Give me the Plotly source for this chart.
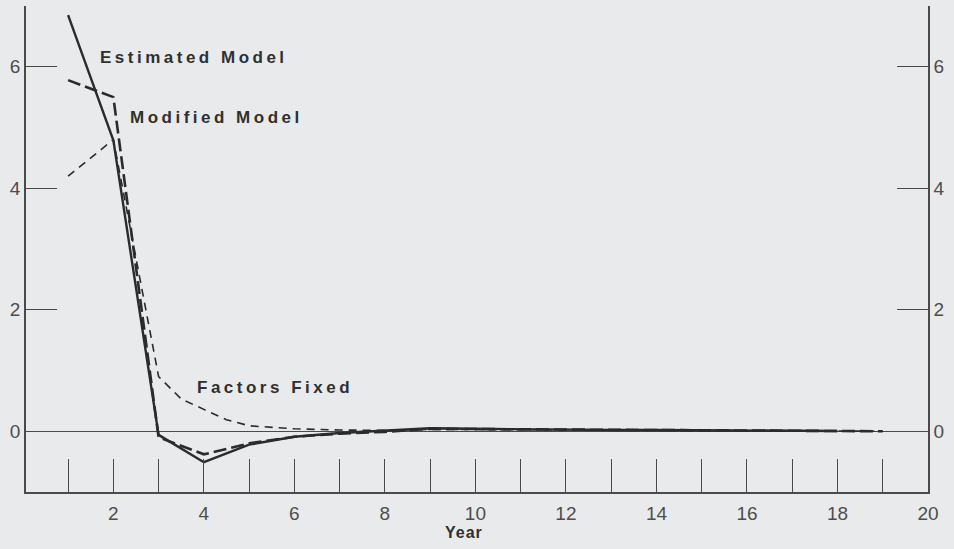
import plotly.graph_objects as go

# Impulse responses by year
years = list(range(1, 20))
estimated_years = list(range(1, 19))
estimated = [6.85, 4.79, -0.06, -0.51, -0.22, -0.09, -0.03, 0.01, 0.05,
             0.04, 0.03, 0.025, 0.02, 0.02, 0.015, 0.01, 0.01, 0.005]
modified = [5.78, 5.5, -0.1, -0.38, -0.2, -0.09, -0.04, -0.01, 0.04,
            0.035, 0.03, 0.025, 0.02, 0.02, 0.015, 0.01, 0.01, 0.005, 0.0]
fixed_years = [1, 2, 3, 3.5, 4, 4.5, 5, 6, 7, 8, 9, 10, 11, 12, 13, 14, 15, 16, 17, 18, 19]
factors_fixed = [4.2, 4.8, 0.9, 0.53, 0.36, 0.19, 0.09, 0.04, 0.02, 0.015, 0.03,
                 0.03, 0.025, 0.02, 0.02, 0.015, 0.01, 0.01, 0.005, 0.0, 0.0]

x_tickvals = list(range(1, 21))
x_ticktext = [str(v) if v % 2 == 0 else "" for v in x_tickvals]
y_tickvals = [0, 2, 4, 6, 7]
y_ticktext = ["0", "2", "4", "6", ""]

labels = ["Estimated Model", "Modified Model", "Factors Fixed"]
label_x = [1.66, 2.32, 3.80]
label_y = [6.16, 5.16, 0.725]

BG = "#e9eaec"
INK = "#2b2b2b"
AXIS = "#4a4a4a"
TXT = "#4d4d4d"

fig = go.Figure()
fig.add_trace(go.Scatter(x=fixed_years, y=factors_fixed, mode="lines",
                         line=dict(color=INK, width=1.6, dash="8px,6px")))
fig.add_trace(go.Scatter(x=years, y=modified, mode="lines",
                         line=dict(color=INK, width=2.6, dash="13px,5px")))
fig.add_trace(go.Scatter(x=estimated_years, y=estimated, mode="lines",
                         line=dict(color=INK, width=2.4)))
# invisible trace to activate the right-hand axis
fig.add_trace(go.Scatter(x=[10], y=[0], yaxis="y2", mode="markers",
                         marker=dict(opacity=0), hoverinfo="skip"))

for txt, lx, ly in zip(labels, label_x, label_y):
    fig.add_annotation(x=lx, y=ly, xanchor="left", yanchor="middle",
                       text=f'<b><span style="letter-spacing:3.5px">{txt}</span></b>',
                       showarrow=False,
                       font=dict(family="Liberation Sans", size=17, color="#303030"))

fig.add_annotation(x=9.75, y=-0.083, xref="x", yref="paper", xanchor="center",
                   yanchor="middle", showarrow=False,
                   text='<b><span style="letter-spacing:1px">Year</span></b>',
                   font=dict(family="Liberation Sans", size=16, color="#303030"))

yaxis_common = dict(range=[-1, 7], tickvals=y_tickvals, ticktext=y_ticktext,
                    ticks="inside", ticklen=31, tickwidth=1.4, tickcolor=AXIS,
                    showline=True, linecolor=AXIS, linewidth=1.6,
                    showgrid=False, fixedrange=True,
                    tickfont=dict(family="Liberation Sans", size=19, color=TXT))

fig.update_layout(
    width=954, height=549,
    margin=dict(l=26, r=26, t=6, b=57),
    paper_bgcolor=BG, plot_bgcolor=BG,
    showlegend=False,
    xaxis=dict(range=[0.07, 20], tickvals=x_tickvals, ticktext=x_ticktext,
               ticks="inside", ticklen=33, tickwidth=1.4, tickcolor=AXIS,
               showline=True, linecolor=AXIS, linewidth=1.8,
               showgrid=False, zeroline=False, ticklabelstandoff=3,
               tickfont=dict(family="Liberation Sans", size=19, color=TXT)),
    yaxis=dict(**yaxis_common, zeroline=True, zerolinecolor=AXIS, zerolinewidth=1.3),
    yaxis2=dict(**yaxis_common, overlaying="y", side="right", zeroline=False),
)

fig.write_html("out.html")
